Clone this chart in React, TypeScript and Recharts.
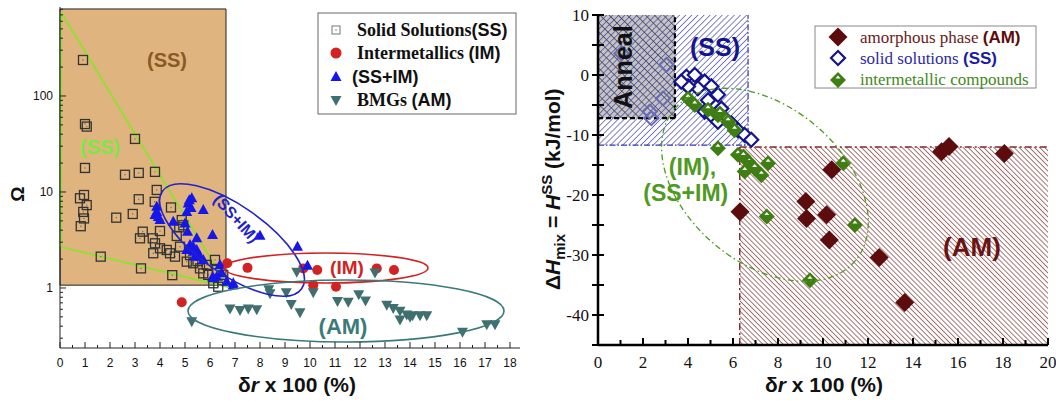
import {
  Customized,
  ReferenceArea,
  ReferenceDot,
  ReferenceLine,
  Scatter,
  ScatterChart,
  XAxis,
  YAxis,
} from "recharts";

// ---------- left panel: Omega vs delta r ----------
const ssSolidPoints = [
  { x: 0.92, y: 237 }, { x: 1.0, y: 51 }, { x: 1.07, y: 48 }, { x: 3.0, y: 35.7 },
  { x: 1.0, y: 17.8 }, { x: 2.6, y: 15.1 }, { x: 3.15, y: 15.8 }, { x: 3.8, y: 16.2 },
  { x: 3.87, y: 10.5 }, { x: 0.96, y: 9.3 }, { x: 0.8, y: 8.6 }, { x: 1.07, y: 7.3 },
  { x: 0.93, y: 6.2 }, { x: 0.96, y: 5.3 }, { x: 0.83, y: 4.4 }, { x: 3.15, y: 8.4 },
  { x: 3.79, y: 7.9 }, { x: 2.91, y: 5.9 }, { x: 2.25, y: 5.4 }, { x: 4.44, y: 6.9 },
  { x: 3.31, y: 3.86 }, { x: 3.2, y: 3.29 }, { x: 3.71, y: 3.29 }, { x: 4.0, y: 3.92 },
  { x: 4.0, y: 2.59 }, { x: 3.8, y: 2.92 }, { x: 4.27, y: 2.49 }, { x: 4.67, y: 3.48 },
  { x: 4.6, y: 2.12 }, { x: 4.8, y: 2.69 }, { x: 4.93, y: 4.5 }, { x: 5.07, y: 1.88 },
  { x: 5.33, y: 1.81 }, { x: 5.6, y: 1.6 }, { x: 5.87, y: 1.74 }, { x: 6.2, y: 1.96 },
  { x: 6.27, y: 1.54 }, { x: 5.93, y: 1.37 }, { x: 5.73, y: 1.42 }, { x: 6.53, y: 1.37 },
  { x: 6.13, y: 1.12 }, { x: 6.33, y: 1.03 }, { x: 1.63, y: 2.12 }, { x: 3.24, y: 1.6 },
  { x: 4.49, y: 1.36 }, { x: 4.87, y: 5.1 }, { x: 4.77, y: 4.28 }, { x: 3.73, y: 2.3 },
  { x: 4.4, y: 2.3 }, { x: 5.2, y: 2.2 }, { x: 5.5, y: 1.9 }, { x: 6.5, y: 1.2 },
];

const ssImPoints = [
  { x: 5.27, y: 8.6 }, { x: 5.13, y: 7.6 }, { x: 5.24, y: 6.8 }, { x: 5.07, y: 6.2 },
  { x: 5.17, y: 8.2 }, { x: 3.87, y: 7.0 }, { x: 3.87, y: 6.2 }, { x: 3.93, y: 5.5 },
  { x: 4.0, y: 5.1 }, { x: 3.8, y: 5.77 }, { x: 5.73, y: 6.5 }, { x: 4.53, y: 4.9 },
  { x: 5.0, y: 4.7 }, { x: 6.1, y: 3.57 }, { x: 5.1, y: 3.86 }, { x: 5.47, y: 3.29 },
  { x: 5.2, y: 2.8 }, { x: 5.33, y: 2.69 }, { x: 5.07, y: 2.49 }, { x: 5.47, y: 2.49 },
  { x: 5.6, y: 2.12 }, { x: 5.73, y: 1.96 }, { x: 5.4, y: 2.12 }, { x: 5.33, y: 2.39 },
  { x: 6.4, y: 1.74 }, { x: 6.47, y: 1.42 }, { x: 6.27, y: 1.31 }, { x: 6.13, y: 1.26 },
  { x: 6.93, y: 1.12 }, { x: 6.67, y: 1.16 }, { x: 6.1, y: 1.29 }, { x: 6.93, y: 1.07 },
  { x: 8.0, y: 3.5 }, { x: 9.5, y: 2.69 }, { x: 9.9, y: 1.7 },
];

const imPoints = [
  { x: 6.69, y: 1.81 }, { x: 7.5, y: 1.62 }, { x: 9.73, y: 1.6 }, { x: 10.29, y: 1.54 },
  { x: 12.67, y: 1.6 }, { x: 13.36, y: 1.54 }, { x: 10.13, y: 1.07 }, { x: 11.04, y: 1.03 },
  { x: 4.87, y: 0.71 },
];

const bmgPoints = [
  { x: 9.47, y: 1.48 }, { x: 12.6, y: 1.45 }, { x: 8.35, y: 0.97 }, { x: 8.4, y: 0.88 },
  { x: 9.05, y: 0.9 }, { x: 9.25, y: 0.68 }, { x: 9.6, y: 0.56 }, { x: 10.13, y: 0.9 },
  { x: 11.1, y: 0.73 }, { x: 11.53, y: 0.72 }, { x: 11.95, y: 0.86 }, { x: 12.22, y: 0.74 },
  { x: 13.07, y: 0.67 }, { x: 13.33, y: 0.62 }, { x: 13.6, y: 0.58 }, { x: 13.87, y: 0.53 },
  { x: 14.1, y: 0.52 }, { x: 14.4, y: 0.52 }, { x: 14.67, y: 0.52 }, { x: 13.6, y: 0.47 },
  { x: 14.0, y: 0.5 }, { x: 6.8, y: 0.61 }, { x: 7.2, y: 0.59 }, { x: 7.53, y: 0.61 },
  { x: 7.87, y: 0.6 }, { x: 16.1, y: 0.35 }, { x: 17.07, y: 0.42 }, { x: 17.4, y: 0.42 },
  { x: 5.27, y: 0.45 },
];

const leftXLabels = [0, 1, 2, 3, 4, 5, 6, 7, 8, 9, 10, 11, 12, 13, 14, 15, 16, 17, 18];
const leftYLabels = [1, 10, 100];
const leftYMinor = [0.3, 0.4, 0.5, 0.6, 0.7, 0.8, 0.9, 2, 3, 4, 5, 6, 7, 8, 9, 20, 30, 40, 50, 60, 70, 80, 90, 200, 300, 400, 500, 600, 700, 800];

// ---------- right panel: dHmix vs delta r ----------
const amPoints = [
  { x: 15.27, y: -12.8 }, { x: 15.6, y: -11.9 }, { x: 18.06, y: -13.1 }, { x: 10.39, y: -15.8 },
  { x: 9.24, y: -21.1 }, { x: 9.27, y: -23.9 }, { x: 10.16, y: -23.3 }, { x: 10.28, y: -27.5 },
  { x: 12.5, y: -30.4 }, { x: 13.63, y: -37.9 }, { x: 6.31, y: -22.8 },
];

// solid solutions lying under the grey "Anneal" box (drawn paler)
const ssAnnealPoints = [
  { x: 1.04, y: 3.6 }, { x: 3.04, y: 1.7 }, { x: 2.89, y: -3.9 }, { x: 2.3, y: -6.1 },
  { x: 2.37, y: -7.2 },
];

const ssRightPoints = [
  { x: 3.93, y: -0.3 }, { x: 4.3, y: 0 }, { x: 4.74, y: -1.1 },
  { x: 5.04, y: -1.9 }, { x: 4.44, y: -2.2 }, { x: 4.0, y: -1.9 }, { x: 5.33, y: -3.3 },
  { x: 4.89, y: -4.2 }, { x: 4.74, y: -6.1 }, { x: 5.04, y: -6.7 }, { x: 5.48, y: -5.6 },
  { x: 5.63, y: -7.2 }, { x: 5.93, y: -8.1 }, { x: 6.22, y: -9.2 }, { x: 6.52, y: -10 },
  { x: 6.81, y: -10.8 }, { x: 3.7, y: -1.1 }, { x: 5.33, y: -7.8 },
];

const imRightPoints = [
  { x: 4.0, y: -3.9 }, { x: 4.3, y: -5 }, { x: 4.89, y: -5.8 }, { x: 5.33, y: -6.7 },
  { x: 5.78, y: -7.8 }, { x: 6.07, y: -9.2 }, { x: 5.33, y: -12.2 }, { x: 6.22, y: -13.3 },
  { x: 6.67, y: -14.4 }, { x: 6.96, y: -15.6 }, { x: 7.26, y: -16.7 }, { x: 6.52, y: -16.1 },
  { x: 5.42, y: -6.4 }, { x: 6.46, y: -13.6 }, { x: 7.56, y: -14.7 }, { x: 7.5, y: -23.6 },
  { x: 10.9, y: -14.7 }, { x: 11.42, y: -25 }, { x: 9.42, y: -34.2 },
];

const rightYLabels = [10, 0, -10, -20, -30, -40];

const colors = {
  tan: "#DFB47E",
  greenLine: "#86E62A",
  brownText: "#8A5A22",
  lightGreenText: "#7EE645",
  blue: "#1616E8",
  blueEllipse: "#2222CC",
  red: "#D22222",
  teal: "#3F6F6F",
  tealEllipse: "#3A7A7A",
  amRed: "#5C0C0C",
  ssNavy: "#14148C",
  ssFaded: "#6A6AB4",
  imGreen: "#3E7E12",
  imText: "#4E9A22",
  hatchBlue: "#3434AC",
  hatchRed: "#7E2A2A",
  anneal: "#C4C4C4",
};

const SANS = "Liberation Sans, Arial, sans-serif";
const SERIF = "Liberation Serif, Times New Roman, serif";

const leftXTicks = leftXLabels.flatMap((t) => (t < 18 ? [t, t + 0.5] : [t]));
const leftYTicks = [...leftYLabels, ...leftYMinor].sort((a, b) => a - b);
const rightXTicks = Array.from({ length: 21 }, (_, i) => i);
const rightYTicks = [-45, -40, -35, -30, -25, -20, -15, -10, -5, 0, 5, 10];

// right panel sits 530px in from the page edge
const RX = 530;

// ---------- marker shapes ----------
function SquareMark({ cx, cy }: any) {
  return (
    <g>
      <rect x={cx - 4.5} y={cy - 4.5} width={9} height={9} fill="none" stroke="#333" strokeWidth={1.3} />
      <circle cx={cx} cy={cy} r={0.7} fill="#666" />
    </g>
  );
}

function TriUp({ cx, cy, fill = colors.blue }: any) {
  return <polygon points={`${cx},${cy - 6} ${cx + 5.5},${cy + 4} ${cx - 5.5},${cy + 4}`} fill={fill} />;
}

function TriDown({ cx, cy, fill = colors.teal }: any) {
  return <polygon points={`${cx - 5.5},${cy - 4} ${cx + 5.5},${cy - 4} ${cx},${cy + 6}`} fill={fill} />;
}

function Dot({ cx, cy }: any) {
  return <circle cx={cx} cy={cy} r={5} fill={colors.red} />;
}

function AmDiamond({ cx, cy }: any) {
  const h = 9.5;
  return <polygon points={`${cx},${cy - h} ${cx + h},${cy} ${cx},${cy + h} ${cx - h},${cy}`} fill={colors.amRed} />;
}

function SsDiamond({ cx, cy, stroke = colors.ssNavy }: any) {
  const h = 7;
  return (
    <polygon
      points={`${cx},${cy - h} ${cx + h},${cy} ${cx},${cy + h} ${cx - h},${cy}`}
      fill="#fff"
      stroke={stroke}
      strokeWidth={2.2}
    />
  );
}

function SsFadedDiamond({ cx, cy }: any) {
  const h = 7;
  return (
    <polygon
      points={`${cx},${cy - h} ${cx + h},${cy} ${cx},${cy + h} ${cx - h},${cy}`}
      fill="none"
      stroke={colors.ssFaded}
      strokeWidth={2}
    />
  );
}

function ImDiamond({ cx, cy }: any) {
  const h = 8;
  return (
    <g>
      <polygon points={`${cx},${cy - h} ${cx + h},${cy} ${cx},${cy + h} ${cx - h},${cy}`} fill={colors.imGreen} />
      <polygon points={`${cx - 2.5},${cy - 1.5} ${cx + 2.5},${cy - 1.5} ${cx},${cy - 4.5}`} fill="#fff" />
    </g>
  );
}

// ---------- ticks ----------
function LeftXTick({ x, y, payload }: any) {
  const v = payload.value;
  const major = Number.isInteger(v);
  return (
    <g>
      <line x1={x} x2={x} y1={y} y2={y - (major ? 6 : 3)} stroke="#222" />
      {major && (
        <text x={x} y={y + 19} textAnchor="middle" fontSize={12} style={{ fontFamily: SANS }} fill="#111">
          {v}
        </text>
      )}
    </g>
  );
}

function LeftYTick({ x, y, payload }: any) {
  const v = payload.value;
  const major = leftYLabels.includes(v);
  return (
    <g>
      <line x1={x} x2={x + (major ? 6 : 3)} y1={y} y2={y} stroke="#222" />
      {major && (
        <text x={x - 7} y={y + 4} textAnchor="end" fontSize={12} style={{ fontFamily: SANS }} fill="#111">
          {v}
        </text>
      )}
    </g>
  );
}

function RightXTick({ x, y, payload }: any) {
  const v = payload.value;
  const major = v % 2 === 0;
  return (
    <g>
      <line x1={x} x2={x} y1={y} y2={y - (major ? 7 : 5)} stroke="#000" strokeWidth={2} />
      {major && (
        <text x={x} y={y + 23} textAnchor="middle" fontSize={17} style={{ fontFamily: SERIF }} fill="#111">
          {v}
        </text>
      )}
    </g>
  );
}

function RightYTick({ x, y, payload }: any) {
  const v = payload.value;
  const major = rightYLabels.includes(v);
  return (
    <g>
      <line x1={x - 6} x2={x + 6} y1={y} y2={y} stroke="#000" strokeWidth={2} />
      {major && (
        <text x={x - 9} y={y + 6} textAnchor="end" fontSize={17} style={{ fontFamily: SERIF }} fill="#111">
          {v}
        </text>
      )}
    </g>
  );
}

function TopTick({ x, y }: any) {
  return <line x1={x} x2={x} y1={y} y2={y + 5} stroke="#000" strokeWidth={2} />;
}

function RightSideTick({ x, y }: any) {
  return <line x1={x} x2={x - 5} y1={y} y2={y} stroke="#000" strokeWidth={2} />;
}

// ---------- annotation helpers ----------
function ellipseShape(rx: number, ry: number, angle: number, stroke: string, dash?: string, width = 1.6) {
  return (p: any) => (
    <ellipse
      cx={p.cx}
      cy={p.cy}
      rx={rx}
      ry={ry}
      transform={`rotate(${angle} ${p.cx} ${p.cy})`}
      fill="none"
      stroke={stroke}
      strokeWidth={width}
      strokeDasharray={dash}
    />
  );
}

function textShape(label: string, color: string, size: number, angle = 0) {
  return (p: any) => (
    <text
      x={p.cx}
      y={p.cy}
      textAnchor="middle"
      dominantBaseline="central"
      style={{ fontFamily: SANS }}
      fontWeight="bold"
      fontSize={size}
      fill={color}
      transform={angle ? `rotate(${angle} ${p.cx} ${p.cy})` : undefined}
    >
      {label}
    </text>
  );
}

function LeftOverlay() {
  return (
    <g>
      <rect x={318} y={13} width={198} height={101} fill="#fff" stroke="#666" />
      <rect x={332} y={26} width={8} height={8} fill="none" stroke="#777" />
      <circle cx={336} cy={30} r={0.8} fill="#777" />
      <circle cx={336} cy={53} r={5.5} fill={colors.red} />
      <TriUp cx={336} cy={77} />
      <TriDown cx={336} cy={100} />
      <g fontWeight="bold" fontSize={18} fill="#111">
        <text x={357} y={36} style={{ fontFamily: SERIF }}>
          Solid Solutions<tspan style={{ fontFamily: SANS }}>(SS)</tspan>
        </text>
        <text x={357} y={59} style={{ fontFamily: SERIF }}>
          Intermetallics <tspan style={{ fontFamily: SANS }}>(IM)</tspan>
        </text>
        <text x={352} y={83} style={{ fontFamily: SANS }}>
          (SS+IM)
        </text>
        <text x={357} y={106} style={{ fontFamily: SERIF }}>
          BMGs <tspan style={{ fontFamily: SANS }}>(AM)</tspan>
        </text>
      </g>
      <text x={297} y={392} textAnchor="middle" style={{ fontFamily: SANS }} fontWeight="bold" fontSize={21} fill="#111">
        δ<tspan fontStyle="italic">r</tspan> x 100 (%)
      </text>
      <text
        x={17}
        y={194}
        textAnchor="middle"
        dominantBaseline="central"
        style={{ fontFamily: SANS }}
        fontWeight="bold"
        fontSize={19}
        transform="rotate(-90 17 194)"
        fill="#111"
      >
        Ω
      </text>
    </g>
  );
}

function RightDefs() {
  return (
    <defs>
      <pattern id="hatchBlue" patternUnits="userSpaceOnUse" width="4.3" height="4.3" patternTransform="rotate(45)">
        <line x1="0" y1="0" x2="0" y2="4.3" stroke={colors.hatchBlue} strokeWidth="1.25" />
      </pattern>
      <pattern id="hatchRed" patternUnits="userSpaceOnUse" width="3.6" height="3.6" patternTransform="rotate(-45)">
        <rect width="3.6" height="3.6" fill="#fff" />
        <line x1="0" y1="0" x2="0" y2="3.6" stroke={colors.hatchRed} strokeWidth="1.3" />
      </pattern>
      <pattern id="hatchAnneal" patternUnits="userSpaceOnUse" width="6.4" height="6.4" patternTransform="rotate(-45)">
        <rect width="6.4" height="6.4" fill={colors.anneal} />
        <line x1="0" y1="0" x2="0" y2="6.4" stroke="#111" strokeWidth="1.1" />
      </pattern>
    </defs>
  );
}

function RightOverlay() {
  return (
    <g>
      <rect x={815 - RX} y={26} width={221} height={62} fill="#fff" stroke="#888" />
      <AmDiamond cx={838 - RX} cy={37} />
      <SsDiamond cx={838 - RX} cy={58} />
      <ImDiamond cx={838 - RX} cy={80} />
      <g fontSize={17}>
        <text x={860 - RX} y={43} fill="#6B1A1A" style={{ fontFamily: SERIF }}>
          amorphous phase{" "}
          <tspan style={{ fontFamily: SANS }} fontWeight="bold" fill={colors.amRed}>
            (AM)
          </tspan>
        </text>
        <text x={860 - RX} y={64} fill="#2A2AA8" style={{ fontFamily: SERIF }}>
          solid solutions{" "}
          <tspan style={{ fontFamily: SANS }} fontWeight="bold" fill="#1A1AA0">
            (SS)
          </tspan>
        </text>
        <text x={860 - RX} y={85} fill="#3F8A1A" style={{ fontFamily: SERIF }}>
          intermetallic compounds
        </text>
      </g>
      <text x={824 - RX} y={392} textAnchor="middle" style={{ fontFamily: SANS }} fontWeight="bold" fontSize={21} fill="#111">
        δ<tspan fontStyle="italic">r</tspan> x 100 (%)
      </text>
      <text
        x={560 - RX}
        y={290}
        style={{ fontFamily: SANS }}
        fontWeight="bold"
        fontSize={21}
        transform={`rotate(-90 ${560 - RX} 290)`}
        fill="#111"
      >
        Δ<tspan fontStyle="italic">H</tspan>
        <tspan fontSize={15} dy={5}>mix</tspan>
        <tspan dy={-5}> = </tspan>
        <tspan fontStyle="italic">H</tspan>
        <tspan fontSize={15} dy={-8}>SS</tspan>
        <tspan dy={8}>  (kJ/mol)</tspan>
      </text>
    </g>
  );
}

function LeftPanel() {
  return (
    <ScatterChart width={530} height={403} margin={{ top: 7, right: 10, bottom: 0, left: 0 }}>
      <XAxis
        dataKey="x"
        type="number"
        domain={[0, 18.4]}
        allowDataOverflow
        ticks={leftXTicks}
        interval={0}
        tick={<LeftXTick />}
        tickLine={false}
        tickSize={0}
        tickMargin={0}
        height={55}
        axisLine={{ stroke: "#222" }}
      />
      <YAxis
        dataKey="y"
        type="number"
        scale="log"
        domain={[0.237, 845]}
        allowDataOverflow
        ticks={leftYTicks}
        interval={0}
        tick={<LeftYTick />}
        tickLine={false}
        tickSize={0}
        tickMargin={0}
        width={60}
        axisLine={{ stroke: "#222" }}
      />
      <XAxis xAxisId="top" orientation="top" type="number" domain={[0, 18.4]} height={0} tick={false} tickLine={false} axisLine={{ stroke: "#222" }} />
      <YAxis yAxisId="right" orientation="right" type="number" domain={[0, 1]} width={0} tick={false} tickLine={false} axisLine={{ stroke: "#222" }} />

      <ReferenceArea x1={0} x2={6.64} y1={1.07} y2={806} fill={colors.tan} fillOpacity={1} stroke="#222" strokeWidth={1} />
      <ReferenceLine segment={[{ x: 0.04, y: 750 }, { x: 6.72, y: 1.02 }]} stroke={colors.greenLine} strokeWidth={1.6} />
      <ReferenceLine segment={[{ x: 0.04, y: 2.67 }, { x: 6.72, y: 1.02 }]} stroke={colors.greenLine} strokeWidth={1.6} />
      <ReferenceLine segment={[{ x: 0.04, y: 750 }, { x: 0.04, y: 2.67 }]} stroke={colors.greenLine} strokeWidth={1.6} />

      <Scatter data={ssSolidPoints} shape={SquareMark} isAnimationActive={false} />
      <Scatter data={imPoints} shape={Dot} isAnimationActive={false} />
      <Scatter data={bmgPoints} shape={TriDown} isAnimationActive={false} />
      <Scatter data={ssImPoints} shape={TriUp} isAnimationActive={false} />

      <ReferenceDot x={6.88} y={3.16} shape={ellipseShape(85, 34, 35, colors.blueEllipse)} />
      <ReferenceDot x={10.64} y={1.615} shape={ellipseShape(102, 15, 0, colors.red)} />
      <ReferenceDot x={11.44} y={0.576} shape={ellipseShape(158, 31, 0, colors.tealEllipse)} />

      <ReferenceDot x={4.28} y={237} shape={textShape("(SS)", colors.brownText, 20)} />
      <ReferenceDot x={1.6} y={29.4} shape={textShape("(SS)", colors.lightGreenText, 20)} />
      <ReferenceDot x={11.48} y={1.615} shape={textShape("(IM)", colors.red, 19)} />
      <ReferenceDot x={11.32} y={0.393} shape={textShape("(AM)", colors.tealEllipse, 22)} />
      <ReferenceDot x={7.05} y={5.3} shape={textShape("(SS+IM)", colors.blueEllipse, 16, 48)} />

      <Customized component={LeftOverlay} />
    </ScatterChart>
  );
}

function RightPanel() {
  return (
    <ScatterChart width={526} height={403} margin={{ top: 15, right: 8, bottom: 0, left: 0 }}>
      <Customized component={RightDefs} />
      <XAxis
        dataKey="x"
        type="number"
        domain={[0, 20]}
        allowDataOverflow
        ticks={rightXTicks}
        interval={0}
        tick={<RightXTick />}
        tickLine={false}
        tickSize={0}
        tickMargin={0}
        height={58}
        axisLine={{ stroke: "#000", strokeWidth: 2.5 }}
      />
      <YAxis
        dataKey="y"
        type="number"
        domain={[-45, 10]}
        allowDataOverflow
        ticks={rightYTicks}
        interval={0}
        tick={<RightYTick />}
        tickLine={false}
        tickSize={0}
        tickMargin={0}
        width={68}
        axisLine={{ stroke: "#000", strokeWidth: 2.5 }}
      />
      <XAxis
        xAxisId="top"
        orientation="top"
        type="number"
        domain={[0, 20]}
        allowDataOverflow
        ticks={rightXTicks}
        interval={0}
        tick={<TopTick />}
        tickLine={false}
        tickSize={0}
        tickMargin={0}
        height={0}
        axisLine={{ stroke: "#000", strokeWidth: 2.5 }}
      />
      <YAxis
        yAxisId="right"
        orientation="right"
        type="number"
        domain={[-45, 10]}
        allowDataOverflow
        ticks={rightYTicks}
        interval={0}
        tick={<RightSideTick />}
        tickLine={false}
        tickSize={0}
        tickMargin={0}
        width={0}
        axisLine={{ stroke: "#000", strokeWidth: 2.5 }}
      />

      <ReferenceArea x1={6.3} x2={20} y1={-45} y2={-12} fill="url(#hatchRed)" fillOpacity={1} stroke="none" />
      <ReferenceArea x1={0} x2={3.42} y1={-7.2} y2={10} fill="url(#hatchAnneal)" fillOpacity={1} stroke="none" />
      <ReferenceArea x1={0} x2={6.67} y1={-11.7} y2={10} fill="url(#hatchBlue)" fillOpacity={1} stroke="none" />

      <ReferenceLine segment={[{ x: 6.3, y: -45 }, { x: 6.3, y: -12 }]} stroke={colors.hatchRed} strokeWidth={1.4} strokeDasharray="7 3 2 3" />
      <ReferenceLine segment={[{ x: 6.3, y: -12 }, { x: 20, y: -12 }]} stroke={colors.hatchRed} strokeWidth={1.4} strokeDasharray="7 3 2 3" />
      <ReferenceLine segment={[{ x: 3.42, y: -7.2 }, { x: 3.42, y: 10 }]} stroke="#000" strokeWidth={2.2} strokeDasharray="5 3" />
      <ReferenceLine segment={[{ x: 0, y: -7.2 }, { x: 3.42, y: -7.2 }]} stroke="#000" strokeWidth={2.2} strokeDasharray="5 3" />
      <ReferenceLine segment={[{ x: 6.67, y: -11.7 }, { x: 6.67, y: 10 }]} stroke={colors.hatchBlue} strokeWidth={1.2} strokeDasharray="6 2 1.5 2" />
      <ReferenceLine segment={[{ x: 0, y: -11.7 }, { x: 6.67, y: -11.7 }]} stroke={colors.hatchBlue} strokeWidth={1.2} strokeDasharray="6 2 1.5 2" />

      <Scatter data={ssAnnealPoints} shape={SsFadedDiamond} isAnimationActive={false} />

      <ReferenceDot x={1.1} y={1.33} shape={textShape("Anneal", "#111", 25, -90)} />
      <ReferenceDot x={5.2} y={4.67} shape={textShape("(SS)", colors.ssNavy, 25)} />
      <ReferenceDot x={16.62} y={-28.67} shape={textShape("(AM)", "#6B1212", 26)} />

      <Scatter data={ssRightPoints} shape={SsDiamond} isAnimationActive={false} />
      <Scatter data={imRightPoints} shape={ImDiamond} isAnimationActive={false} />
      <Scatter data={amPoints} shape={AmDiamond} isAnimationActive={false} />

      <ReferenceDot x={7.42} y={-18.3} shape={ellipseShape(118, 78, 40, colors.imText, "6 3 1.5 3", 1.3)} />
      <ReferenceDot x={4.2} y={-15.3} shape={textShape("(IM),", colors.imText, 23)} />
      <ReferenceDot x={3.9} y={-19.6} shape={textShape("(SS+IM)", colors.imText, 23)} />

      <Customized component={RightOverlay} />
    </ScatterChart>
  );
}

export default function App() {
  return (
    <div style={{ position: "absolute", left: 0, top: 0, width: 1056, height: 403, background: "#fff", overflow: "hidden" }}>
      <div style={{ position: "absolute", left: 0, top: 0 }}>
        <LeftPanel />
      </div>
      <div style={{ position: "absolute", left: RX, top: 0 }}>
        <RightPanel />
      </div>
    </div>
  );
}
